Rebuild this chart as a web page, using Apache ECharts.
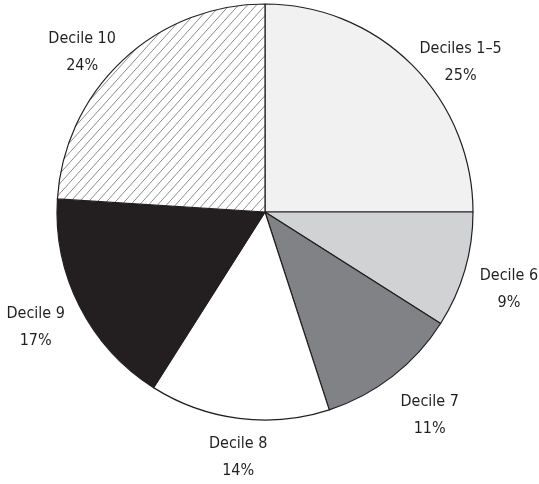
<!DOCTYPE html>
<html>
<head>
<meta charset="utf-8">
<script src="https://cdn.jsdelivr.net/npm/echarts@6/dist/echarts.min.js"></script>
<style>
html,body{margin:0;padding:0;background:#fff;}
#chart{width:539px;height:484px;}
</style>
</head>
<body>
<div id="chart"></div>
<script>
const categories = ['Deciles 1\u20135', 'Decile 6', 'Decile 7', 'Decile 8', 'Decile 9', 'Decile 10'];
const shares = [25, 9, 11, 14, 17, 24];
const sliceColors = ['#f1f1f2', '#d1d2d4', '#808285', '#ffffff', '#231f20', 'hatch'];
// fine tuning of label placement (style only)
const labelNudges = [[16, 30], [0, 6], [9, 3], [5, -7], [-3, 0], [-9, 26]];

function makeHatch() {
  const w = 9, h = 10;
  const c = document.createElement('canvas');
  c.width = w; c.height = h;
  const ctx = c.getContext('2d');
  ctx.fillStyle = '#ffffff';
  ctx.fillRect(0, 0, w, h);
  ctx.strokeStyle = '#6d6e71';
  ctx.lineWidth = 0.8;
  ctx.beginPath();
  ctx.moveTo(-w, 2 * h); ctx.lineTo(2 * w, -h);
  ctx.moveTo(-2 * w, 2 * h); ctx.lineTo(w, -h);
  ctx.moveTo(0, 2 * h); ctx.lineTo(3 * w, -h);
  ctx.stroke();
  return c;
}
const hatch = makeHatch();

const chart = echarts.init(document.getElementById('chart'), null, {renderer: 'canvas'});
const fontFamily = '"Liberation Sans Narrow", "DejaVu Sans Condensed", "Roboto Condensed", sans-serif';

const sliceData = categories.map((name, i) => ({
  name: name,
  value: shares[i],
  itemStyle: {
    color: sliceColors[i] === 'hatch' ? {image: hatch, repeat: 'repeat'} : sliceColors[i]
  }
}));
const labelData = categories.map((name, i) => ({
  name: name,
  value: shares[i],
  label: {offset: labelNudges[i]}
}));

chart.setOption({
  animation: false,
  backgroundColor: '#ffffff',
  series: [
    {
      type: 'pie',
      center: [265, 212],
      radius: [0, 208],
      startAngle: 90,
      clockwise: true,
      silent: true,
      label: {show: false},
      labelLine: {show: false},
      itemStyle: {borderColor: '#231f20', borderWidth: 1.2},
      data: sliceData
    },
    {
      type: 'pie',
      center: [265, 212],
      radius: [0, 502],
      startAngle: 90,
      clockwise: true,
      silent: true,
      itemStyle: {color: 'rgba(0,0,0,0)', borderWidth: 0},
      labelLine: {show: false},
      label: {
        show: true,
        position: 'inside',
        formatter: p => p.name + '\n' + p.value + '%',
        color: '#231f20',
        fontFamily: fontFamily,
        fontSize: 16,
        lineHeight: 27,
        align: 'center'
      },
      data: labelData
    }
  ]
});
</script>
</body>
</html>
